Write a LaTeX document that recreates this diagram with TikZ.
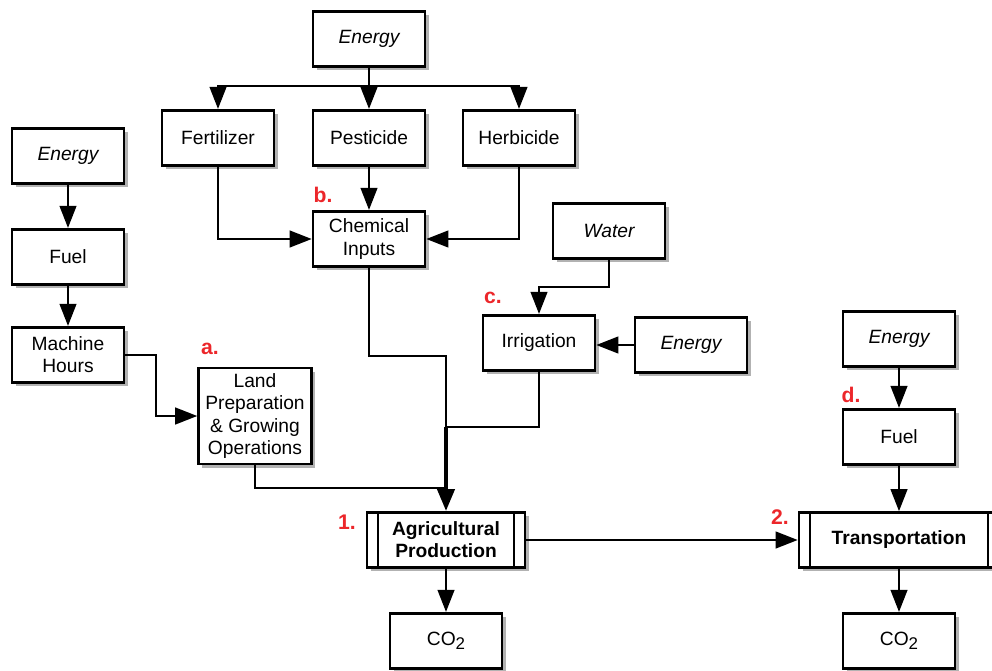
\documentclass[tikz,border=0pt]{standalone}
\usepackage{fontspec}
\setmainfont{Liberation Sans}
\usetikzlibrary{arrows.meta,shadows}
\definecolor{tagred}{RGB}{236,38,42}
\newcommand{\cotwo}{CO\raisebox{-0.4ex}{\fontsize{9.6}{10}\selectfont 2}}

\tikzset{
  box/.style={draw, line width=1.5pt, fill=white, minimum width=63.5pt,
    minimum height=31.5pt, align=center, inner sep=1pt,
    font=\fontsize{10.9}{12.6}\selectfont,
    drop shadow={shadow xshift=2pt, shadow yshift=-2pt, fill=black, opacity=0.3}},
  process/.style={box, font=\fontsize{10.9}{12.6}\selectfont\bfseries,
    path picture={\draw[line width=1.2pt]
      ([xshift=6.3pt]path picture bounding box.north west) -- ([xshift=6.3pt]path picture bounding box.south west)
      ([xshift=-6.3pt]path picture bounding box.north east) -- ([xshift=-6.3pt]path picture bounding box.south east);}},
  link/.style={line width=1.1pt},
  arr/.style={link, -{Triangle[length=12.5pt,width=9.5pt]}},
  tag/.style={text=tagred, font=\fontsize{12}{12}\selectfont\bfseries, inner sep=0pt}
}

\begin{document}
\begin{tikzpicture}[x=0.567pt,y=-0.567pt]
  \useasboundingbox (0,0) rectangle (992,670);

  % chemical inputs
  \node[box] (energyTop) at (369,39) {\itshape Energy};
  \node[box] (fert) at (218,138) {Fertilizer};
  \node[box] (pest) at (369,138) {Pesticide};
  \node[box] (herb) at (519,138) {Herbicide};
  \node[box] (chem) at (369,239) {Chemical\\Inputs};
  \coordinate (split) at (369,86);
  \draw[link] (energyTop.south) -- (split);
  \draw[arr] (split) -| (fert.north);
  \draw[arr] (split) -- (pest.north);
  \draw[arr] (split) -| (herb.north);
  \draw[arr] (fert.south) |- (chem.west);
  \draw[arr] (pest.south) -- (chem.north);
  \draw[arr] (herb.south) |- (chem.east);

  % machinery
  \node[box] (energyL) at (68,156) {\itshape Energy};
  \node[box] (fuelL) at (68,257) {Fuel};
  \node[box] (machine) at (68,355) {Machine\\Hours};
  \node[box, minimum width=64pt, minimum height=54.4pt] (land) at (255,416) {Land\\Preparation\\\& Growing\\Operations};
  \draw[arr] (energyL.south) -- (fuelL.north);
  \draw[arr] (fuelL.south) -- (machine.north);
  \draw[arr] (machine.east) -- ++(31,0) |- (land.west);

  % irrigation
  \node[box] (water) at (609,231) {\itshape Water};
  \node[box] (irr) at (539,343) {Irrigation};
  \node[box] (energyIrr) at (691,345) {\itshape Energy};
  \draw[arr] (water.south) -- ++(0,27) -| (irr.north);
  \draw[arr] (energyIrr.west) -- (energyIrr.west -| irr.east);

  % production and transport
  \node[process, minimum width=89.6pt, minimum height=31.2pt] (agri) at (446,540) {Agricultural\\Production};
  \node[box] (co2L) at (446,641) {\cotwo};
  \node[box] (energyR) at (899,339) {\itshape Energy};
  \node[box] (fuelR) at (899,437) {Fuel};
  \node[process, minimum width=113.4pt, minimum height=31.2pt] (trans) at (899,540) {Transportation};
  \node[box] (co2R) at (899,641) {\cotwo};

  \coordinate (chemTurn) at (446,356);
  \coordinate (merge) at (446,427);
  \coordinate (landJoin) at (446,488);
  \draw[link] (chem.south) |- (chemTurn) -- (merge);
  \draw[link] (irr.south) |- (merge);
  \draw[link] (land.south) |- (landJoin);
  \draw[arr, line width=2.6pt] (merge) -- (agri.north);
  \draw[arr] (agri.south) -- (co2L.north);
  \draw[arr] (agri.east) -- (trans.west);
  \draw[arr] (energyR.south) -- (fuelR.north);
  \draw[arr] (fuelR.south) -- (trans.north);
  \draw[arr] (trans.south) -- (co2R.north);

  % step labels
  \node[tag] (tagA) at (210,349) {a.};
  \node[tag] (tagB) at (323,195) {b.};
  \node[tag] (tagC) at (493,298) {c.};
  \node[tag] (tagD) at (851,395) {d.};
  \node[tag] (tag1) at (347,522) {1.};
  \node[tag] (tag2) at (780,517) {2.};
\end{tikzpicture}
\end{document}
